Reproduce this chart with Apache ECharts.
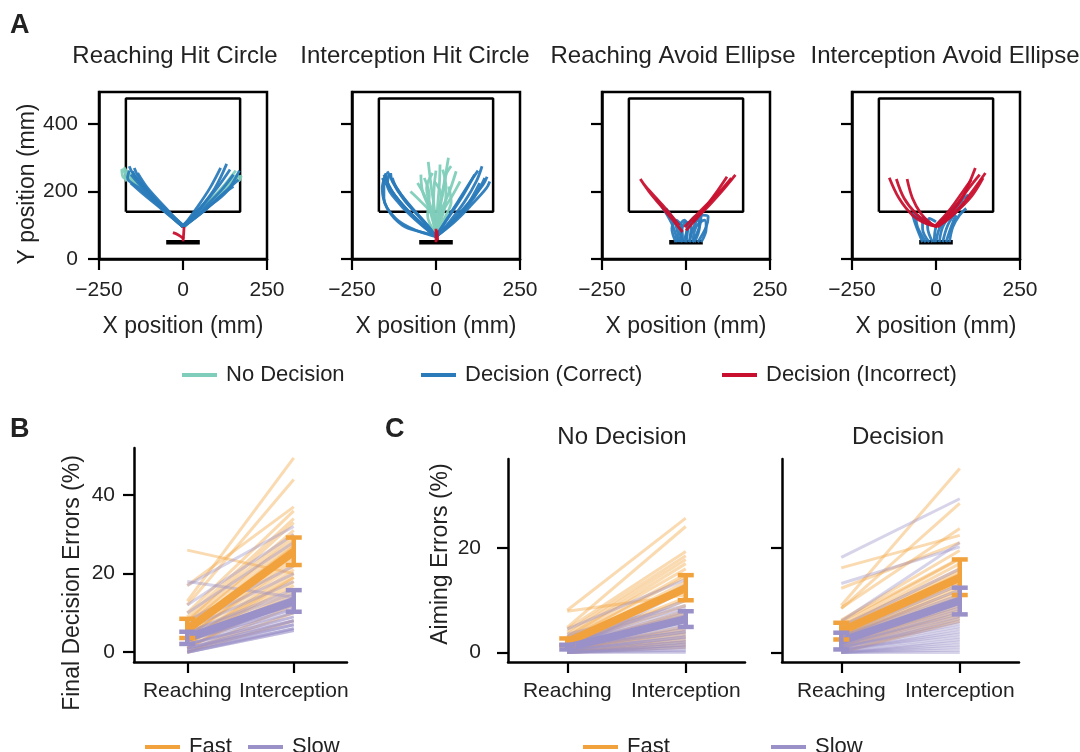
<!DOCTYPE html>
<html>
<head>
<meta charset="UTF-8">
<title>decision-errors-figure</title>
<script src="https://cdn.jsdelivr.net/npm/echarts@6/dist/echarts.min.js"></script>
<style>
html, body { margin: 0; padding: 0; background: #fff; }
#main { width: 1080px; height: 752px; }
</style>
</head>
<body>
<div id="main"></div>
<script>
var FONT = "'Liberation Sans', Arial, sans-serif";
var TXT = '#222';
var TEAL = '#80cdbb', BLUE = '#2b7bba', RED = '#c8102e';
var ORANGE = '#f2a23c', PURPLE = '#9a91c8';

// ---- panel A : trajectories (mm) ----
var panelTitles = ['Reaching Hit Circle', 'Interception Hit Circle', 'Reaching Avoid Ellipse', 'Interception Avoid Ellipse'];
var xTicksA = [-250, 0, 250];
var yTicksA = [0, 200, 400];
var targetBox = [[-170, 140], [170, 140], [170, 476], [-170, 476], [-170, 140]];
var startBar = [[-50, 50], [50, 50]];

var noDecision = [
  [
    [[0,95],[-60,150],[-120,205],[-170,255],[-182,266],[-178,242],[-165,236]],
    [[0,100],[-50,145],[-110,196],[-160,250],[-176,272]],
    [[-5,100],[-70,160],[-130,214],[-172,250],[-168,230]],
    [[0,95],[-80,165],[-140,226],[-165,262]],
    [[0,98],[-65,158],[-125,218],[-160,248],[-175,258]],
    [[0,95],[60,150],[120,205],[160,240],[173,246],[166,232],[150,238]],
    [[0,100],[55,150],[115,210],[157,262]],
    [[5,95],[70,160],[130,224],[166,252]]
  ],
  [
    [[0,75],[10,150],[25,230],[37,300]],
    [[0,75],[-5,150],[-15,220],[-23,288]],
    [[0,75],[15,140],[40,200],[60,260]],
    [[0,75],[-15,140],[-35,190],[-55,225]],
    [[0,75],[5,160],[10,220],[12,280]],
    [[0,75],[20,140],[50,190],[72,230]],
    [[0,75],[-10,130],[-45,170],[-76,200]],
    [[0,75],[8,140],[22,200],[30,250],[45,275]],
    [[0,75],[-8,150],[-5,220],[0,262]],
    [[0,75],[-20,150],[-40,200],[-45,250]],
    [[0,75],[25,150],[30,210],[20,265]],
    [[0,75],[-25,130],[-20,190],[-35,240]],
    [[0,75],[-12,140],[-28,210],[-10,255]],
    [[0,75],[12,130],[15,190],[-5,230]],
    [[0,75],[30,130],[45,170],[38,215]]
  ],
  [],
  []
];

var decCorrect = [
  [
    [[0,95],[-55,150],[-110,205],[-150,255],[-160,275]],
    [[0,95],[-65,155],[-120,210],[-155,250]],
    [[0,100],[-45,140],[-100,195],[-140,240],[-150,260]],
    [[0,95],[-75,160],[-130,210],[-165,240],[-160,262]],
    [[0,95],[-60,145],[-115,190],[-155,225]],
    [[0,100],[-70,165],[-125,230],[-145,270]],
    [[0,95],[-50,150],[-105,210],[-135,255]],
    [[0,95],[50,150],[95,210],[130,282]],
    [[0,95],[60,150],[115,205],[150,250]],
    [[0,95],[65,145],[120,195],[165,235]],
    [[0,100],[55,155],[105,215],[140,265]],
    [[0,95],[70,150],[130,200],[168,262]],
    [[0,95],[40,150],[80,210],[112,270]],
    [[0,95],[60,140],[110,185],[150,215]]
  ],
  [
    [[0,66],[-40,100],[-90,150],[-130,200],[-155,250]],
    [[0,66],[-50,110],[-100,160],[-140,215],[-150,255]],
    [[0,70],[-30,95],[-80,140],[-125,190],[-160,240]],
    [[0,66],[-60,115],[-110,165],[-145,220],[-140,250]],
    [[0,66],[-40,78],[-100,100],[-145,150],[-160,210],[-150,250]],
    [[0,70],[-60,85],[-120,120],[-155,180],[-155,235]],
    [[0,66],[-45,120],[-95,175],[-130,230],[-135,255]],
    [[0,66],[-25,100],[-70,150],[-110,200],[-145,260]],
    [[0,66],[-35,110],[-85,165],[-120,215],[-130,240]],
    [[0,66],[40,110],[85,170],[120,230],[137,275]],
    [[0,66],[50,115],[100,170],[140,220],[152,244]],
    [[0,66],[45,105],[90,155],[130,225]],
    [[0,70],[35,120],[75,180],[110,240],[125,262]],
    [[0,66],[55,110],[105,160],[150,210],[160,230]],
    [[0,66],[30,115],[65,170],[100,225],[115,250]],
    [[0,66],[60,120],[115,185],[145,240]]
  ],
  [
    [[-25,50],[-40,100],[-65,145],[-90,180]],
    [[-20,50],[-30,100],[-45,130],[-60,150]],
    [[-30,50],[-42,90],[-30,115],[-15,100],[-10,55]],
    [[-10,50],[-20,95],[-5,115],[5,90],[0,50]],
    [[0,50],[5,95],[25,125],[45,130],[40,95],[20,50]],
    [[10,50],[25,100],[50,130],[66,125],[60,95],[35,50]],
    [[-5,50],[10,100],[35,118],[40,95],[25,50]],
    [[-15,50],[-12,90],[0,110],[15,95],[10,50]],
    [[20,50],[30,95],[55,115],[60,90],[45,50]]
  ],
  [
    [[-40,50],[-60,100],[-71,136],[-50,120],[-20,100]],
    [[-30,50],[-55,95],[-60,130],[-35,110]],
    [[-20,50],[-40,90],[-40,125],[-15,105]],
    [[-10,50],[-25,95],[-20,120],[0,110]],
    [[0,50],[10,90],[40,140],[70,170],[96,190]],
    [[10,50],[20,95],[50,140],[80,175]],
    [[20,50],[35,100],[60,140],[85,165]],
    [[30,50],[45,95],[60,130],[50,110]],
    [[-5,50],[0,95],[20,120],[40,130]],
    [[40,50],[50,95],[70,130],[90,150]]
  ]
];

var decIncorrect = [
  [
    [[0,52],[2,75],[3,95]],
    [[3,60],[-15,72],[-30,78]]
  ],
  [
    [[0,50],[0,70],[0,90]],
    [[5,55],[4,70],[3,85]]
  ],
  [
    [[-10,80],[-60,140],[-110,200],[-136,237],[-120,215],[-70,160],[-20,100]],
    [[0,85],[40,130],[85,190],[122,244]],
    [[20,110],[70,160],[115,210],[147,249]],
    [[-5,95],[50,150],[100,200],[135,240]]
  ],
  [
    [[-139,241],[-110,180],[-70,130],[-30,105],[3,96]],
    [[-118,237],[-95,180],[-60,135],[-25,108],[3,96]],
    [[-86,237],[-70,180],[-45,135],[-15,105],[3,96]],
    [[3,96],[40,130],[80,185],[117,270]],
    [[3,96],[50,130],[100,190],[147,255]],
    [[0,100],[45,140],[90,200],[130,250]],
    [[5,95],[55,135],[105,185],[140,240]],
    [[0,100],[40,145],[80,200],[105,235]]
  ]
];

// ---- panels B and C : per participant errors (%) ----
var conditions = ['Reaching', 'Interception'];

var bFastReach = [26,17,13,12,10,9,8,8,7,7,6,6,5,5,5,4,4,4,3,3,3,2,2,2,1,1,1,0,0,0];
var bFastInter = [20,37,49.5,44,36,34,33,31,30,29,28,27,27,26,25,24,23,22,21,20,19,19,18,17,16,15,14,12,10,8];
var bSlowReach = [18,17,12,10,8,7,6,5,5,4,4,4,3,3,3,3,2,2,2,2,1,1,1,1,0.5,0.5,0,0,0,0];
var bSlowInter = [14,32,30,28,22,20,18,16,15,14,13,12,12,11,11,10,10,9,9,8,8,8,7,7,7,6,6,6,5.5,5.5];
var bFastMean = [5.8, 25.6], bFastLo = [3.6, 22.2], bFastHi = [8.5, 29.2];
var bSlowMean = [3.7, 13.0], bSlowLo = [2.1, 10.3], bSlowHi = [5.2, 15.8];

var cNoFastReach = [8.1,4.8,7.9,4.5,4,3.5,3,3,2.5,2.5,2,2,2,1.5,1.5,1.5,1,1,1,1,0.5,0.5,0.5,0.5,0,0,0,0,0];
var cNoFastInter = [25.7,24.1,11,19.3,18.5,17.8,17,16,15,14.5,13.5,12.5,12,10.5,10,9,8,7.5,7,6,5,4.5,4,3.5,3,2.5,2,1.5,1];
var cNoSlowReach = [4.5,3.5,3,2.5,2,2,1.5,1.5,1.5,1,1,1,1,0.5,0.5,0.5,0.5,0.5,0,0,0,0,0,0,0,0.2,0.3,0.8,1];
var cNoSlowInter = [14,9,8.5,8,7.5,7,6.5,6,5.5,5,4.5,4,4,3.5,3,3,2.5,2,2,1.5,1.5,1,1,0.5,0,0.3,12,13,10];
var cNoFastMean = [2.0, 12.3], cNoFastLo = [1.4, 10.0], cNoFastHi = [2.7, 14.8];
var cNoSlowMean = [1.0, 6.4], cNoSlowLo = [0.6, 4.9], cNoSlowHi = [1.5, 7.9];

var cDecFastReach = [16.2,12.3,9,8.4,8.5,6.2,6,5.5,5,5,4.5,4.5,4,4,3.5,3.5,3,3,3,2.5,2.5,2,2,1.5,1.5,1,1,0.5,0,0];
var cDecFastInter = [22.4,21,35.2,28.5,23.7,19.5,18,17.9,17,16,15.5,15,14.5,14,13.5,13,12.5,12,11.5,11,10.5,10,9.5,9,8.5,8,7.5,7,6.5,6];
var cDecSlowReach = [18.2,13.2,6,5,4,3.5,3,3,2.5,2.5,2,2,2,1.5,1.5,1.5,1,1,1,1,0.5,0.5,0.5,0.5,0,0,0,0,0,0];
var cDecSlowInter = [29.4,20.2,21,16,14,13,12,11,10.5,10,9.5,9,8.5,8,7.5,7,6.5,6,5.5,5,4.5,4,3.5,3,2.5,2,1.5,1,0.5,0];
var cDecFastMean = [4.1, 14.3], cDecFastLo = [2.5, 11.0], cDecFastHi = [5.7, 17.8];
var cDecSlowMean = [2.2, 9.9], cDecSlowLo = [0.6, 7.3], cDecSlowHi = [3.8, 12.4];

var yTicksB = [0, 20, 40];
var yTicksC = [0, 20];

// ---- layout ----
var aLefts = [99, 352, 602, 852];
var aTitleX = [175, 415, 673, 945];

function minus(v) { return String(v).replace('-', '\u2212'); }

function txt(size) {
  return { fontFamily: FONT, fontSize: size, color: TXT };
}

var grids = [], xAxes = [], yAxes = [], series = [];

aLefts.forEach(function (left, i) {
  grids.push({ left: left, top: 92, width: 168, height: 167, show: true, borderColor: '#000', borderWidth: 2.5 });
  xAxes.push({
    type: 'value', gridIndex: i, min: -250, max: 250,
    axisLine: { show: true, onZero: false, lineStyle: { color: '#000', width: 2.5 } },
    axisTick: { show: true, length: 11, lineStyle: { color: '#000', width: 2.2 }, customValues: xTicksA },
    axisLabel: Object.assign({ customValues: xTicksA, margin: 21, formatter: minus }, txt(21)),
    splitLine: { show: false },
    name: 'X position (mm)', nameLocation: 'middle', nameGap: 56, nameTextStyle: txt(23)
  });
  yAxes.push({
    type: 'value', gridIndex: i, min: 0, max: 495,
    axisLine: { show: true, onZero: false, lineStyle: { color: '#000', width: 2.5 } },
    axisTick: { show: true, length: 11, lineStyle: { color: '#000', width: 2.2 }, customValues: yTicksA },
    axisLabel: Object.assign({ show: i === 0, customValues: yTicksA, margin: 21 }, txt(21)),
    splitLine: { show: false }
  });

  series.push({ type: 'line', name: 'target', xAxisIndex: i, yAxisIndex: i, data: targetBox, symbol: 'none',
    lineStyle: { color: '#000', width: 2.5 }, z: 2, silent: true });
  series.push({ type: 'line', name: 'start', xAxisIndex: i, yAxisIndex: i, data: startBar, symbol: 'none',
    lineStyle: { color: '#000', width: 4.5 }, z: 2, silent: true });

  [[noDecision, 'No Decision', TEAL], [decCorrect, 'Decision (Correct)', BLUE], [decIncorrect, 'Decision (Incorrect)', RED]]
    .forEach(function (g) {
      g[0][i].forEach(function (path) {
        series.push({ type: 'line', name: g[1], xAxisIndex: i, yAxisIndex: i, data: path, symbol: 'none',
          smooth: 0.35, color: g[2], lineStyle: { color: g[2], width: 2.8, opacity: 0.95 }, z: 3, silent: true });
      });
    });
});

// B and C grids
var lower = [
  { left: 134, top: 448, width: 213, height: 214, min: -2.5, max: 52, ticks: yTicksB, labels: true, margin: 19,
    fr: bFastReach, fi: bFastInter, sr: bSlowReach, si: bSlowInter,
    fm: bFastMean, fl: bFastLo, fh: bFastHi, sm: bSlowMean, sl: bSlowLo, sh: bSlowHi },
  { left: 508, top: 459, width: 237, height: 203, min: -1.8, max: 37, ticks: yTicksC, labels: true, margin: 27,
    fr: cNoFastReach, fi: cNoFastInter, sr: cNoSlowReach, si: cNoSlowInter,
    fm: cNoFastMean, fl: cNoFastLo, fh: cNoFastHi, sm: cNoSlowMean, sl: cNoSlowLo, sh: cNoSlowHi },
  { left: 782, top: 459, width: 237, height: 203, min: -1.8, max: 37, ticks: yTicksC, labels: false, margin: 27,
    fr: cDecFastReach, fi: cDecFastInter, sr: cDecSlowReach, si: cDecSlowInter,
    fm: cDecFastMean, fl: cDecFastLo, fh: cDecFastHi, sm: cDecSlowMean, sl: cDecSlowLo, sh: cDecSlowHi }
];

function errorBars(ax, color, lo, hi) {
  return {
    type: 'custom', name: 'err', xAxisIndex: ax, yAxisIndex: ax, z: 6, silent: true,
    data: lo.map(function (v, k) { return [k, v, hi[k]]; }),
    encode: { x: 0, y: [1, 2] },
    renderItem: function (params, api) {
      var a = api.coord([api.value(0), api.value(1)]);
      var b = api.coord([api.value(0), api.value(2)]);
      var w = 8;
      var st = { stroke: color, lineWidth: 4.5 };
      return { type: 'group', children: [
        { type: 'line', shape: { x1: a[0], y1: a[1], x2: b[0], y2: b[1] }, style: st },
        { type: 'line', shape: { x1: a[0] - w, y1: a[1], x2: a[0] + w, y2: a[1] }, style: st },
        { type: 'line', shape: { x1: b[0] - w, y1: b[1], x2: b[0] + w, y2: b[1] }, style: st }
      ] };
    }
  };
}

lower.forEach(function (p, j) {
  var ax = 4 + j;
  grids.push({ left: p.left, top: p.top, width: p.width, height: p.height });
  xAxes.push({
    type: 'category', gridIndex: ax, data: conditions, boundaryGap: true,
    axisLine: { show: true, onZero: false, lineStyle: { color: '#000', width: 2.5 } },
    axisTick: { show: true, alignWithLabel: true, length: 11, lineStyle: { color: '#000', width: 2.2 } },
    axisLabel: Object.assign({ margin: 19, interval: 0 }, txt(21)),
    splitLine: { show: false }
  });
  yAxes.push({
    type: 'value', gridIndex: ax, min: p.min, max: p.max,
    axisLine: { show: true, onZero: false, lineStyle: { color: '#000', width: 2.5 } },
    axisTick: { show: true, length: 11, lineStyle: { color: '#000', width: 2.2 }, customValues: p.ticks },
    axisLabel: Object.assign({ show: p.labels, customValues: p.ticks, margin: p.margin }, txt(21)),
    splitLine: { show: false }
  });
  p.fr.forEach(function (v, k) {
    series.push({ type: 'line', name: 'fast-subj', xAxisIndex: ax, yAxisIndex: ax, data: [v, p.fi[k]], symbol: 'none',
      lineStyle: { color: ORANGE, width: 3, opacity: 0.4 }, z: 2, silent: true });
  });
  p.sr.forEach(function (v, k) {
    series.push({ type: 'line', name: 'slow-subj', xAxisIndex: ax, yAxisIndex: ax, data: [v, p.si[k]], symbol: 'none',
      lineStyle: { color: PURPLE, width: 3, opacity: 0.4 }, z: 2, silent: true });
  });
  series.push({ type: 'line', name: 'Fast', xAxisIndex: ax, yAxisIndex: ax, data: p.fm, symbol: 'none', color: ORANGE,
    lineStyle: { color: ORANGE, width: 8 }, z: 4, silent: true });
  series.push(errorBars(ax, ORANGE, p.fl, p.fh));
  series.push({ type: 'line', name: 'Slow', xAxisIndex: ax, yAxisIndex: ax, data: p.sm, symbol: 'none', color: PURPLE,
    lineStyle: { color: PURPLE, width: 8 }, z: 5, silent: true });
  series.push(errorBars(ax, PURPLE, p.sl, p.sh));
});

function legendItem(left, top, name, color) {
  return {
    left: left, top: top, data: [{ name: name, itemStyle: { color: color } }],
    icon: 'rect', itemWidth: 35, itemHeight: 4, selectedMode: false,
    textStyle: { fontFamily: FONT, fontSize: 22, color: TXT, padding: [0, 0, 0, 4] }
  };
}

var legends = [
  legendItem(177, 359, 'No Decision', TEAL),
  legendItem(416, 359, 'Decision (Correct)', BLUE),
  legendItem(717, 359, 'Decision (Incorrect)', RED),
  legendItem(140, 731, 'Fast', ORANGE),
  legendItem(243, 731, 'Slow', PURPLE),
  legendItem(578, 731, 'Fast', ORANGE),
  legendItem(766, 731, 'Slow', PURPLE)
];

function label(x, y, text, size, opts) {
  opts = opts || {};
  return {
    type: 'text', x: x, y: y, rotation: opts.rot || 0, silent: true,
    style: { text: text, fill: TXT, font: (opts.bold ? 'bold ' : '') + size + 'px ' + FONT,
      textAlign: opts.align || 'center', textVerticalAlign: 'middle', align: opts.align || 'center', verticalAlign: 'middle' }
  };
}

var texts = [
  label(10, 26, 'A', 27, { bold: true, align: 'left' }),
  label(10, 430, 'B', 27, { bold: true, align: 'left' }),
  label(385, 430, 'C', 27, { bold: true, align: 'left' }),
  label(28, 184, 'Y position (mm)', 23, { rot: Math.PI / 2 }),
  label(73, 583, 'Final Decision Errors (%)', 23, { rot: Math.PI / 2 }),
  label(441, 554, 'Aiming Errors (%)', 23, { rot: Math.PI / 2 }),
  label(622, 437, 'No Decision', 24),
  label(898, 437, 'Decision', 24)
];
panelTitles.forEach(function (t, i) { texts.push(label(aTitleX[i], 56, t, 24)); });

var chart = echarts.init(document.getElementById('main'));
chart.setOption({
  animation: false,
  backgroundColor: '#fff',
  textStyle: { fontFamily: FONT },
  grid: grids,
  xAxis: xAxes,
  yAxis: yAxes,
  legend: legends,
  graphic: texts,
  series: series
});
</script>
</body>
</html>
